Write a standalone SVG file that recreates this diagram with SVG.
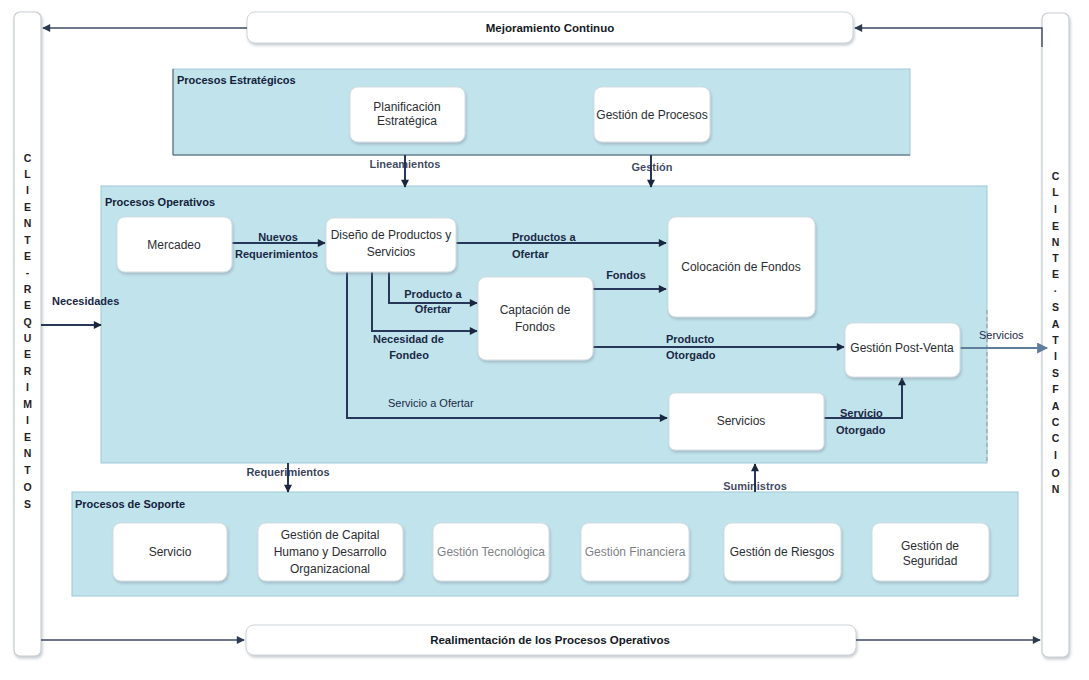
<svg xmlns="http://www.w3.org/2000/svg" width="1089" height="680" viewBox="0 0 1089 680">
  <defs>
    <filter id="soft" x="-10%" y="-10%" width="125%" height="130%">
      <feDropShadow dx="1" dy="2" stdDeviation="1.6" flood-color="#7a8a96" flood-opacity="0.45"/>
    </filter>
    <marker id="ah" viewBox="0 0 10 10" refX="9" refY="5" markerWidth="9" markerHeight="8" markerUnits="userSpaceOnUse" orient="auto">
      <path d="M0,0 L10,5 L0,10 Z" fill="#1b2740"/>
    </marker>
    <marker id="ahg" viewBox="0 0 10 10" refX="9" refY="5" markerWidth="9" markerHeight="8" markerUnits="userSpaceOnUse" orient="auto">
      <path d="M0,0 L10,5 L0,10 Z" fill="#2c3a52"/>
    </marker>
    <marker id="ahs" viewBox="0 0 10 10" refX="9" refY="5" markerWidth="13" markerHeight="11" markerUnits="userSpaceOnUse" orient="auto">
      <path d="M0,0 L10,5 L0,10 Z" fill="#5f7d9c"/>
    </marker>
    <style>
      .bar { fill: #ffffff; stroke: #c9ced3; stroke-width: 1.2; }
      .band { fill: #ffffff; stroke: #cfd4d9; stroke-width: 1; }
      .grp { fill: #c1e4ec; stroke: #9fc9d6; stroke-width: 1; }
      .node { fill: #ffffff; stroke: #d5dde2; stroke-width: 1; }
      .t { font-family: "Liberation Sans", Arial, sans-serif; font-size: 12px; fill: #2a2e33; text-anchor: middle; }
      .tg { fill: #7d8286; }
      .gl { font-family: "Liberation Sans", Arial, sans-serif; font-size: 11px; font-weight: bold; fill: #14203a; }
      .lb { font-family: "Liberation Sans", Arial, sans-serif; font-size: 11px; font-weight: bold; fill: #1a2846; }
      .ln { font-family: "Liberation Sans", Arial, sans-serif; font-size: 11px; fill: #1a2846; }
      .big { font-family: "Liberation Sans", Arial, sans-serif; font-size: 11.5px; font-weight: bold; fill: #15191f; text-anchor: middle; }
      .vl { font-family: "Liberation Sans", Arial, sans-serif; font-size: 10.5px; font-weight: bold; fill: #1e2226; text-anchor: middle; }
      .c { fill: none; stroke: #26375a; stroke-width: 2; }
      .cg { fill: none; stroke: #3c4a62; stroke-width: 1.4; }
      .cs { fill: none; stroke: #5f7d9c; stroke-width: 2; }
    </style>
  </defs>

  <rect width="1089" height="680" fill="#ffffff"/>

  <!-- customer side bars -->
  <g id="cliente-requerimientos">
    <rect class="bar" x="14" y="12" width="27" height="644" rx="6" filter="url(#soft)"/>
    <g class="vl">
      <text x="27.5" y="162">C</text><text x="27.5" y="178">L</text><text x="27.5" y="194">I</text>
      <text x="27.5" y="211">E</text><text x="27.5" y="227">N</text><text x="27.5" y="244">T</text>
      <text x="27.5" y="260">E</text><text x="27.5" y="276">-</text><text x="27.5" y="293">R</text>
      <text x="27.5" y="309">E</text><text x="27.5" y="326">Q</text><text x="27.5" y="342">U</text>
      <text x="27.5" y="358">E</text><text x="27.5" y="375">R</text><text x="27.5" y="391">I</text>
      <text x="27.5" y="408">M</text><text x="27.5" y="424">I</text><text x="27.5" y="441">E</text>
      <text x="27.5" y="457">N</text><text x="27.5" y="474">T</text><text x="27.5" y="491">O</text>
      <text x="27.5" y="508">S</text>
    </g>
  </g>
  <g id="cliente-satisfaccion">
    <rect class="bar" x="1042" y="13" width="27" height="644" rx="6" filter="url(#soft)"/>
    <g class="vl">
      <text x="1055.5" y="180">C</text><text x="1055.5" y="196">L</text><text x="1055.5" y="213">I</text>
      <text x="1055.5" y="230">E</text><text x="1055.5" y="246">N</text><text x="1055.5" y="262">T</text>
      <text x="1055.5" y="278">E</text><text x="1055.5" y="295">·</text><text x="1055.5" y="311">S</text>
      <text x="1055.5" y="328">A</text><text x="1055.5" y="344">T</text><text x="1055.5" y="360">I</text>
      <text x="1055.5" y="377">S</text><text x="1055.5" y="393">F</text><text x="1055.5" y="410">A</text>
      <text x="1055.5" y="426">C</text><text x="1055.5" y="442">C</text><text x="1055.5" y="459">I</text>
      <text x="1055.5" y="477">O</text><text x="1055.5" y="493">N</text>
    </g>
  </g>

  <!-- feedback bands -->
  <g id="mejoramiento">
    <rect class="band" x="247" y="12" width="606" height="31" rx="8" filter="url(#soft)"/>
    <text class="big" x="550" y="32">Mejoramiento Continuo</text>
  </g>
  <g id="realimentacion">
    <rect class="band" x="246" y="625" width="610" height="30" rx="8" filter="url(#soft)"/>
    <text class="big" x="550" y="644">Realimentación de los Procesos Operativos</text>
  </g>

  <!-- process areas -->
  <g id="procesos-estrategicos">
    <rect class="grp" x="173" y="69" width="737" height="86"/>
    <path d="M173,69 V155 H910" fill="none" stroke="#4d5a66" stroke-width="1"/>
    <text class="gl" x="177" y="84">Procesos Estratégicos</text>
  </g>
  <g id="procesos-operativos">
    <rect class="grp" x="101" y="186" width="886" height="277"/>
    <path d="M987,310 V463" fill="none" stroke="#8a97a2" stroke-width="1" stroke-dasharray="4,3"/>
    <text class="gl" x="105" y="206">Procesos Operativos</text>
  </g>
  <g id="procesos-soporte">
    <rect class="grp" x="72" y="492" width="946" height="104"/>
    <text class="gl" x="75" y="508">Procesos de Soporte</text>
  </g>

  <!-- connectors and their labels -->
  <g id="connectors">
    <path class="cg" d="M1042,47 V28 H855" marker-end="url(#ahg)"/>
    <path class="cg" d="M247,28 H43" marker-end="url(#ahg)"/>
    <path class="cg" d="M41,640 H244" marker-end="url(#ahg)"/>
    <path class="cg" d="M856,640 H1040" marker-end="url(#ahg)"/>

    <path class="c" d="M405,155 V187" marker-end="url(#ah)"/>
    <text class="lb" x="405" y="168" text-anchor="middle" fill-opacity="0.85">Lineamientos</text>
    <path class="c" d="M651,155 V187" marker-end="url(#ah)"/>
    <text class="lb" x="652" y="171" text-anchor="middle" fill-opacity="0.85">Gestión</text>

    <path class="c" d="M41,325 H101" marker-end="url(#ah)"/>
    <text class="lb" x="52" y="305">Necesidades</text>

    <path class="c" d="M232,243 H325" marker-end="url(#ah)"/>
    <text class="lb" x="278" y="241" text-anchor="middle">Nuevos</text>
    <text class="lb" x="235" y="258">Requerimientos</text>

    <path class="c" d="M456,243 H666" marker-end="url(#ah)"/>
    <text class="lb" x="512" y="241">Productos a</text>
    <text class="lb" x="512" y="258">Ofertar</text>

    <path class="c" d="M389,272 V303 H477" marker-end="url(#ah)"/>
    <text class="lb" x="433" y="298" text-anchor="middle">Producto a</text>
    <text class="lb" x="433" y="313" text-anchor="middle">Ofertar</text>

    <path class="c" d="M372,272 V331 H477" marker-end="url(#ah)"/>
    <text class="lb" x="373" y="343">Necesidad de</text>
    <text class="lb" x="409" y="359" text-anchor="middle">Fondeo</text>

    <path class="c" d="M347,272 V418 H667" marker-end="url(#ah)"/>
    <text class="ln" x="388" y="407">Servicio a Ofertar</text>

    <path class="c" d="M593,289 H666" marker-end="url(#ah)"/>
    <text class="lb" x="626" y="279" text-anchor="middle">Fondos</text>

    <path class="c" d="M593,347 H844" marker-end="url(#ah)"/>
    <text class="lb" x="666" y="343">Producto</text>
    <text class="lb" x="666" y="359">Otorgado</text>

    <path class="c" d="M824,418 H902 V378" marker-end="url(#ah)"/>
    <text class="lb" x="840" y="417">Servicio</text>
    <text class="lb" x="836" y="434">Otorgado</text>

    <path class="cs" d="M960,348 H1047" marker-end="url(#ahs)"/>
    <text class="ln" x="979" y="339" fill="#5f7d9c">Servicios</text>

    <path class="c" d="M288,463 V492" marker-end="url(#ah)"/>
    <text class="lb" x="288" y="476" text-anchor="middle" fill-opacity="0.9">Requerimientos</text>

    <path class="c" d="M755,492 V464" marker-end="url(#ah)"/>
    <text class="lb" x="755" y="490" text-anchor="middle" fill-opacity="0.85">Suministros</text>
  </g>

  <!-- strategic processes -->
  <g id="planificacion">
    <rect class="node" x="350" y="87" width="115" height="55" rx="8" filter="url(#soft)"/>
    <text class="t" x="407" y="111">Planificación</text>
    <text class="t" x="407" y="125">Estratégica</text>
  </g>
  <g id="gestion-procesos">
    <rect class="node" x="594" y="87" width="116" height="55" rx="8" filter="url(#soft)"/>
    <text class="t" x="652" y="119">Gestión de Procesos</text>
  </g>

  <!-- operational processes -->
  <g id="mercadeo">
    <rect class="node" x="117" y="217" width="115" height="55" rx="8" filter="url(#soft)"/>
    <text class="t" x="174" y="249">Mercadeo</text>
  </g>
  <g id="diseno">
    <rect class="node" x="326" y="218" width="130" height="54" rx="8" filter="url(#soft)"/>
    <text class="t" x="391" y="239">Diseño de Productos y</text>
    <text class="t" x="391" y="256">Servicios</text>
  </g>
  <g id="captacion">
    <rect class="node" x="478" y="277" width="115" height="83" rx="8" filter="url(#soft)"/>
    <text class="t" x="535" y="314">Captación de</text>
    <text class="t" x="535" y="331">Fondos</text>
  </g>
  <g id="colocacion">
    <rect class="node" x="668" y="217" width="147" height="100" rx="8" filter="url(#soft)"/>
    <text class="t" x="741" y="271">Colocación de Fondos</text>
  </g>
  <g id="post-venta">
    <rect class="node" x="845" y="323" width="115" height="54" rx="8" filter="url(#soft)"/>
    <text class="t" x="902" y="352">Gestión Post-Venta</text>
  </g>
  <g id="servicios">
    <rect class="node" x="669" y="393" width="155" height="57" rx="6" filter="url(#soft)"/>
    <text class="t" x="741" y="425">Servicios</text>
  </g>

  <!-- support processes -->
  <g id="servicio">
    <rect class="node" x="113" y="523" width="114" height="58" rx="8" filter="url(#soft)"/>
    <text class="t" x="170" y="556">Servicio</text>
  </g>
  <g id="capital-humano">
    <rect class="node" x="258" y="523" width="145" height="58" rx="8" filter="url(#soft)"/>
    <text class="t" x="330" y="539">Gestión de Capital</text>
    <text class="t" x="330" y="556">Humano y Desarrollo</text>
    <text class="t" x="330" y="573">Organizacional</text>
  </g>
  <g id="tecnologica">
    <rect class="node" x="433" y="523" width="116" height="58" rx="8" filter="url(#soft)"/>
    <text class="t tg" x="491" y="556">Gestión Tecnológica</text>
  </g>
  <g id="financiera">
    <rect class="node" x="581" y="523" width="108" height="58" rx="8" filter="url(#soft)"/>
    <text class="t tg" x="635" y="556">Gestión Financiera</text>
  </g>
  <g id="riesgos">
    <rect class="node" x="724" y="523" width="117" height="58" rx="8" filter="url(#soft)"/>
    <text class="t" x="782" y="556">Gestión de Riesgos</text>
  </g>
  <g id="seguridad">
    <rect class="node" x="872" y="523" width="117" height="58" rx="8" filter="url(#soft)"/>
    <text class="t" x="930" y="550">Gestión de</text>
    <text class="t" x="930" y="565">Seguridad</text>
  </g>
</svg>
